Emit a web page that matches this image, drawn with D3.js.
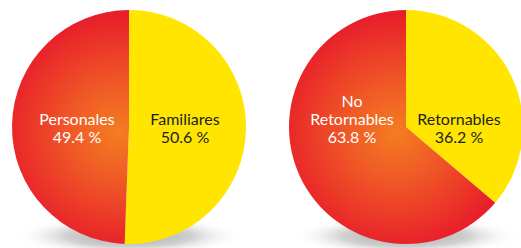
<!DOCTYPE html>
<html>
<head>
<meta charset="utf-8">
<script src="https://cdn.jsdelivr.net/npm/d3@7.9.0/dist/d3.min.js"></script>
<style>
  body { margin: 0; background: #fff; }
  svg { display: block; }
  text { font-family: Lato, "Open Sans", sans-serif; font-size: 16px; }
</style>
</head>
<body>
<svg id="chart" width="521" height="248"></svg>
<script>
// data for the two pies
const leftLabels = [["Familiares"], ["Personales"]];
const leftValues = [50.6, 49.4];
const rightLabels = [["Retornables"], ["No", "Retornables"]];
const rightValues = [36.2, 63.8];

const pies = [
  { labels: leftLabels, values: leftValues, cx: 129, labelDx: [56, -52] },
  { labels: rightLabels, values: rightValues, cx: 406, labelDx: [53, -54] }
];

const svg = d3.select("#chart");
const radius = 117;
const cy = 127;

const defs = svg.append("defs");

// red slice: orange in the middle, red at the rim
const red = defs.append("radialGradient")
  .attr("id", "redGrad")
  .attr("gradientUnits", "userSpaceOnUse")
  .attr("cx", -10).attr("cy", 5)
  .attr("r", radius);
red.append("stop").attr("offset", "0%").attr("stop-color", "#f47d21");
red.append("stop").attr("offset", "40%").attr("stop-color", "#f05a26");
red.append("stop").attr("offset", "100%").attr("stop-color", "#e81f2a");

const shadow = defs.append("radialGradient").attr("id", "shadowGrad");
shadow.append("stop").attr("offset", "0%").attr("stop-color", "#a8a8a8");
shadow.append("stop").attr("offset", "55%").attr("stop-color", "#d0d0d0");
shadow.append("stop").attr("offset", "100%").attr("stop-color", "#fff").attr("stop-opacity", 0);

const arc = d3.arc().innerRadius(0).outerRadius(radius);
const pie = d3.pie().sort(null);
const fills = ["#ffe500", "url(#redGrad)"];
const textColors = ["#231f20", "#fff"];

pies.forEach((p, k) => {
  // shadow under the pie
  svg.append("ellipse")
    .attr("cx", p.cx)
    .attr("cy", cy + radius - 8)
    .attr("rx", radius * 0.98)
    .attr("ry", 20)
    .attr("fill", "url(#shadowGrad)");

  const g = svg.append("g").attr("transform", `translate(${p.cx},${cy})`);

  g.selectAll("path")
    .data(pie(p.values))
    .join("path")
    .attr("d", arc)
    .attr("fill", (d, i) => fills[i]);

  p.values.forEach((v, i) => {
    const lines = p.labels[i].concat([d3.format(".1f")(v) + " %"]);
    const t = g.append("text")
      .attr("text-anchor", "middle")
      .attr("fill", textColors[i]);
    lines.forEach((s, j) => {
      t.append("tspan")
        .attr("x", p.labelDx[i])
        .attr("y", 16 - 18 * (lines.length - 1 - j))
        .text(s);
    });
  });
});
</script>
</body>
</html>
